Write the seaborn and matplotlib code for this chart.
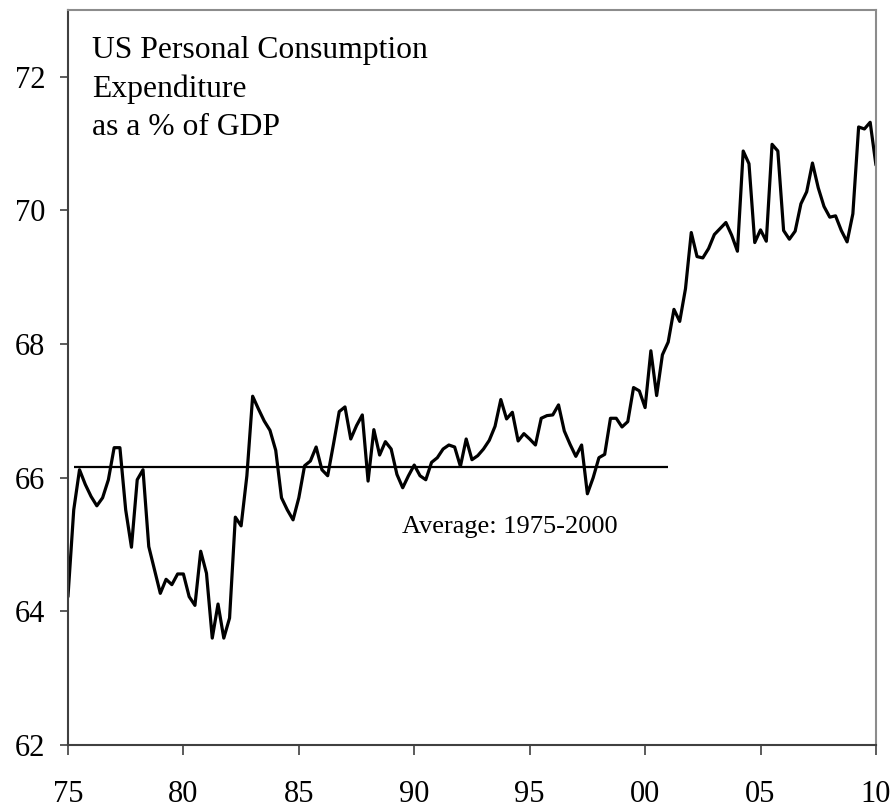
import matplotlib
matplotlib.use("Agg")
import matplotlib.pyplot as plt
import seaborn as sns
import pandas as pd
import numpy as np

# quarterly PCE as % of GDP, 1975Q1 - 2010Q1
pce_1975_1979 = [64.22, 65.52, 66.12, 65.90, 65.72, 65.58, 65.70, 65.97, 66.45, 66.45,
                 65.52, 64.96, 65.97, 66.12, 64.97, 64.62, 64.27, 64.48, 64.40, 64.56]
pce_1980_1984 = [64.56, 64.22, 64.09, 64.90, 64.57, 63.60, 64.11, 63.60, 63.90, 65.41,
                 65.28, 66.03, 67.22, 67.03, 66.85, 66.71, 66.41, 65.70, 65.52, 65.37]
pce_1985_1989 = [65.70, 66.18, 66.25, 66.46, 66.12, 66.03, 66.50, 66.99, 67.06, 66.58,
                 66.78, 66.94, 65.95, 66.72, 66.34, 66.54, 66.43, 66.05, 65.85, 66.03]
pce_1990_1994 = [66.19, 66.03, 65.97, 66.23, 66.30, 66.43, 66.49, 66.46, 66.17, 66.58,
                 66.27, 66.33, 66.43, 66.56, 66.77, 67.17, 66.88, 66.98, 66.55, 66.66]
pce_1995_1999 = [66.58, 66.49, 66.89, 66.93, 66.94, 67.09, 66.70, 66.50, 66.32, 66.49,
                 65.76, 66.00, 66.30, 66.35, 66.89, 66.89, 66.76, 66.84, 67.35, 67.30]
pce_2000_2004 = [67.05, 67.90, 67.23, 67.84, 68.03, 68.52, 68.34, 68.83, 69.67, 69.31,
                 69.29, 69.43, 69.64, 69.73, 69.82, 69.63, 69.39, 70.89, 70.70, 69.52]
pce_2005_2010 = [69.71, 69.54, 70.99, 70.89, 69.70, 69.57, 69.69, 70.10, 70.28, 70.71,
                 70.34, 70.06, 69.90, 69.92, 69.70, 69.53, 69.95, 71.25, 71.22, 71.32,
                 70.68]

average_value = 66.16
average_span = [1975.25, 2001.0]

year_ticks = [1975, 1980, 1985, 1990, 1995, 2000, 2005, 2010]
year_labels = ["75", "80", "85", "90", "95", "00", "05", "10"]
y_ticks = [62, 64, 66, 68, 70, 72]

pce = (pce_1975_1979 + pce_1980_1984 + pce_1985_1989 + pce_1990_1994
       + pce_1995_1999 + pce_2000_2004 + pce_2005_2010)
df = pd.DataFrame({"year": 1975 + np.arange(len(pce)) / 4, "pce": pce})

sns.set_style("white")
plt.rcParams["font.family"] = ["Liberation Serif", "DejaVu Serif"]
plt.rcParams["text.color"] = "black"
plt.rcParams["xtick.color"] = "black"
plt.rcParams["ytick.color"] = "black"

fig = plt.figure(figsize=(8.92, 8.09), dpi=100)
ax = fig.add_axes([0.0762, 0.0791, 0.9058, 0.9085])

sns.lineplot(data=df, x="year", y="pce", color="black", linewidth=2.3, ax=ax)
ax.hlines(average_value, average_span[0], average_span[1], color="black", linewidth=1.6)

ax.set_xlim(1975, 2010)
ax.set_ylim(62, 73)
ax.set_xticks(year_ticks)
ax.set_xticklabels(year_labels)
ax.set_yticks(y_ticks)
ax.set_xlabel("")
ax.set_ylabel("")

ax.tick_params(axis="x", direction="out", length=7, width=1.2, color="#404040",
               labelcolor="black", labelsize=22, pad=18, bottom=True)
ax.tick_params(axis="y", direction="out", length=6, width=1.2, color="#404040",
               labelcolor="black", labelsize=22, pad=10.5, left=True)

for side in ["left", "bottom"]:
    ax.spines[side].set_color("#404040")
    ax.spines[side].set_linewidth(1.5)
for side in ["top", "right"]:
    ax.spines[side].set_color("#8c8c8c")
    ax.spines[side].set_linewidth(1.5)

ax.text(0.03, 0.965, "US Personal Consumption\nExpenditure\nas a % of GDP",
        transform=ax.transAxes, fontsize=22.8, va="top", ha="left", linespacing=1.42,
        color="black")
ax.text(1975 + (402 - 68) / 23.1, 65.17, "Average: 1975-2000", fontsize=19,
        ha="left", va="baseline", color="black")

fig.savefig("out.png", dpi=100)
